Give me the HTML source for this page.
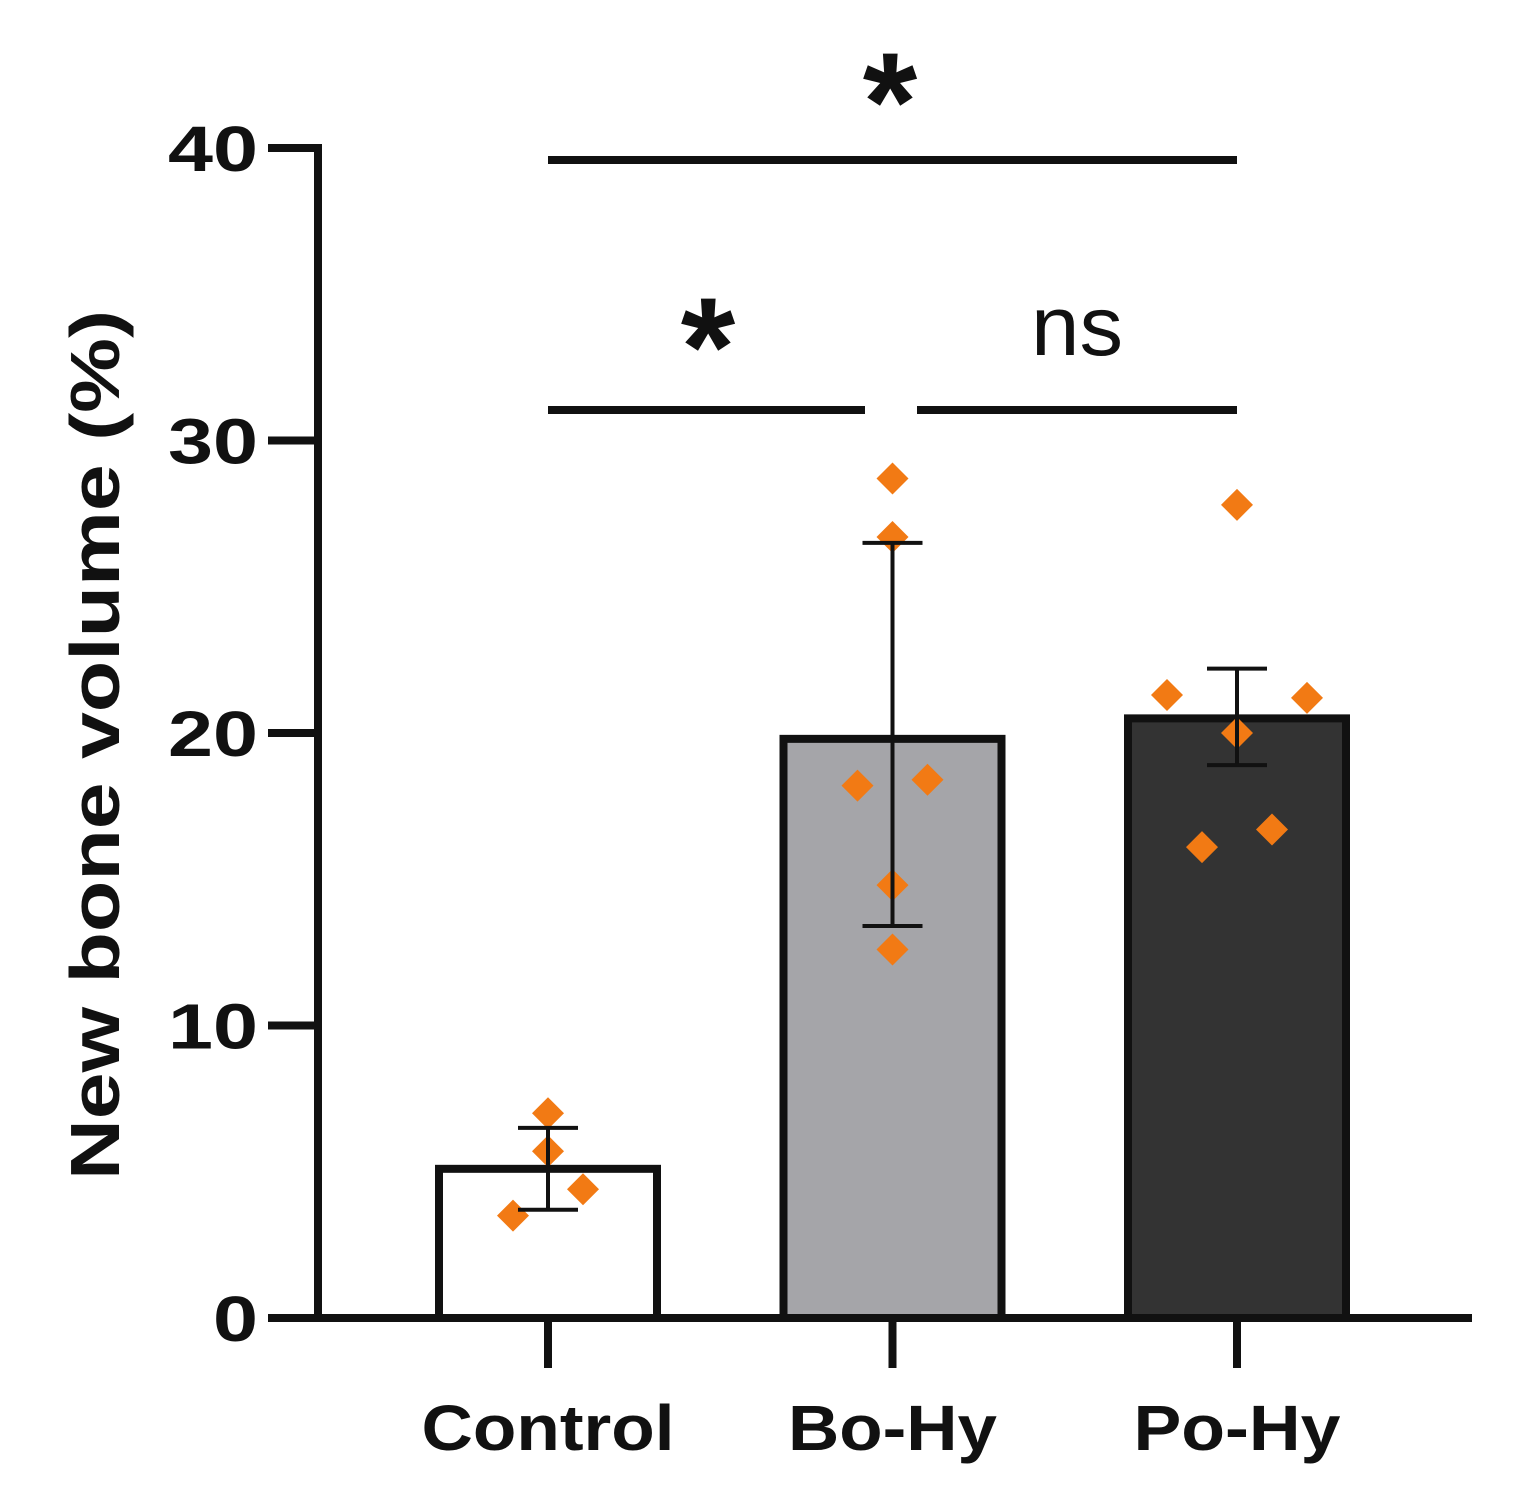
<!DOCTYPE html>
<html><head><meta charset="utf-8"><style>
body{margin:0;background:#fff}
svg{display:block}
text{font-family:"Liberation Sans",Arial,sans-serif;font-weight:bold;fill:#111}
text.normal{font-weight:normal}
</style></head><body>
<svg id="chart" width="1518" height="1509" viewBox="0 0 1518 1509" xmlns="http://www.w3.org/2000/svg"></svg>
<script>
const categories=["Control","Bo-Hy","Po-Hy"];
const means=[5.1,19.8,20.5];
const errLow=[3.7,13.4,18.9];
const errHigh=[6.5,26.5,22.2];
const ctrlPoints=[7.0,5.7,4.4,3.5];
const bohyPoints=[28.7,26.7,18.2,18.4,14.8,12.6];
const pohyPoints=[27.8,21.3,21.2,20.0,16.1,16.7];
const pointOffsets=[[0,0,1,-1],[0,0,-1,1,0,0],[0,-2,2,0,-1,1]];
const yTicks=[0,10,20,30,40];
const fills=["#ffffff","#a5a5a9","#333333"];
const NS="http://www.w3.org/2000/svg";
const svg=document.getElementById("chart");
const y=v=>1318-v*29.25;
const x=i=>548+i*344.5;
function el(t,a,p){const e=document.createElementNS(NS,t);for(const k in a)e.setAttribute(k,a[k]);(p||svg).appendChild(e);return e;}
categories.forEach((c,i)=>{
 const b=el("rect",{x:x(i)-109,y:y(means[i]),width:218,height:y(0)-y(means[i]),fill:fills[i],stroke:"#111","stroke-width":8});
 
 
});
const ya=el("line",{x1:318,y1:144,x2:318,y2:1322,stroke:"#111","stroke-width":8});


const xa=el("line",{x1:314,y1:1318,x2:1472,y2:1318,stroke:"#111","stroke-width":8});


yTicks.forEach(v=>{
 el("line",{x1:268,y1:y(v),x2:318,y2:y(v),stroke:"#111","stroke-width":8});
 const s=String(v);
 const t=el("text",{x:258,y:y(v)+23,"text-anchor":"end","font-size":64,textLength:s.length*45,lengthAdjust:"spacingAndGlyphs"});
 t.textContent=s;
 
 
});
const labelW=[253,209,207];
categories.forEach((c,i)=>{
 el("line",{x1:x(i),y1:1318,x2:x(i),y2:1368,stroke:"#111","stroke-width":8});
 const t=el("text",{x:x(i),y:1450,"text-anchor":"middle","font-size":64,textLength:labelW[i],lengthAdjust:"spacingAndGlyphs"});
 t.textContent=c;
 
 
});
const yt=el("text",{x:0,y:0,"text-anchor":"middle","font-size":70,textLength:870,lengthAdjust:"spacingAndGlyphs",transform:"translate(119,745) rotate(-90)"});
yt.textContent="New bone volume (%)";


[ctrlPoints,bohyPoints,pohyPoints].forEach((pts,i)=>{
 pts.forEach((v,j)=>{
  const cx=x(i)+pointOffsets[i][j]*35, cy=y(v);
  const p=el("polygon",{points:`${cx},${cy-16} ${cx+16},${cy} ${cx},${cy+16} ${cx-16},${cy}`,fill:"#f27a14"});
  
  
 });
});
categories.forEach((c,i)=>{
 const g=el("g",{stroke:"#111","stroke-width":4});
 
 
 el("line",{x1:x(i),y1:y(errLow[i]),x2:x(i),y2:y(errHigh[i])},g);
 el("line",{x1:x(i)-30,y1:y(errLow[i]),x2:x(i)+30,y2:y(errLow[i])},g);
 el("line",{x1:x(i)-30,y1:y(errHigh[i]),x2:x(i)+30,y2:y(errHigh[i])},g);
});
[[548,1237,160],[548,865,410],[917,1237,410]].forEach(s=>{
 const l=el("line",{x1:s[0],y1:s[2],x2:s[1],y2:s[2],stroke:"#111","stroke-width":8});
 
 
});
[["*",890,150,140],["*",708,395,140],["ns",1077,355,84]].forEach(s=>{
 const t=el("text",{x:s[1],y:s[2],"text-anchor":"middle","font-size":s[3]});
 if(s[0]==="ns"){t.setAttribute("class","normal");t.setAttribute("textLength","92");t.setAttribute("lengthAdjust","spacingAndGlyphs");}
 t.textContent=s[0];
 
 
});
</script>
</body></html>
